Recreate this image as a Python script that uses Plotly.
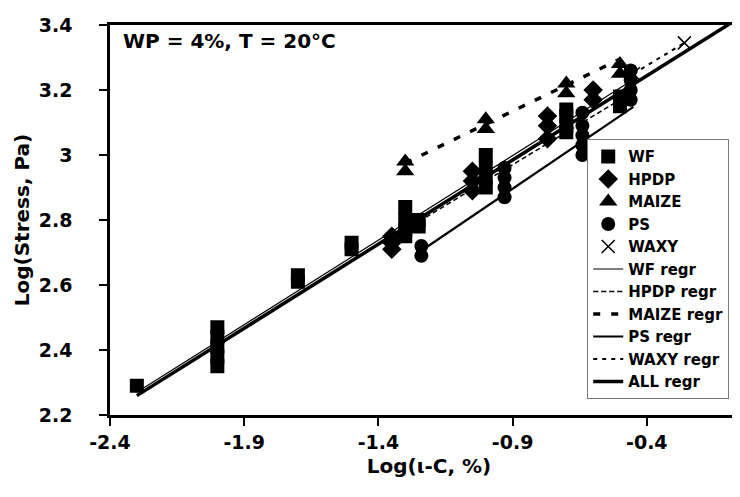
import numpy as np
import plotly.graph_objects as go

# ---- data ----
wf_x = [-2.3, -2.0, -2.0, -2.0, -2.0, -2.0, -1.7, -1.7, -1.5, -1.5,
        -1.3, -1.3, -1.3, -1.3, -1.25, -1.25, -1.0, -1.0, -1.0, -1.0,
        -0.7, -0.7, -0.7, -0.7, -0.5, -0.5]
wf_y = [2.29, 2.35, 2.38, 2.41, 2.44, 2.47, 2.61, 2.63, 2.71, 2.73,
        2.75, 2.77, 2.80, 2.84, 2.78, 2.80, 2.90, 2.93, 2.96, 3.00,
        3.07, 3.09, 3.12, 3.14, 3.15, 3.18]

hpdp_x = [-1.35, -1.35, -1.35, -1.05, -1.05, -1.05, -0.77, -0.77, -0.77, -0.6, -0.6]
hpdp_y = [2.71, 2.73, 2.75, 2.89, 2.92, 2.95, 3.05, 3.09, 3.12, 3.17, 3.20]

maize_x = [-1.3, -1.3, -1.0, -1.0, -0.7, -0.7, -0.5, -0.5]
maize_y = [2.95, 2.98, 3.08, 3.11, 3.19, 3.22, 3.25, 3.28]

ps_x = [-1.24, -1.24, -0.93, -0.93, -0.93, -0.93, -0.64, -0.64, -0.64, -0.64, -0.64,
        -0.46, -0.46, -0.46, -0.46]
ps_y = [2.69, 2.72, 2.87, 2.90, 2.93, 2.96, 3.00, 3.03, 3.06, 3.09, 3.13,
        3.17, 3.20, 3.23, 3.26]

waxy_x = [-0.45, -0.26]
waxy_y = [3.25, 3.345]

# regression lines: name, slope, intercept, x-start, x-end
regr_names = ["WF regr", "HPDP regr", "MAIZE regr", "PS regr", "WAXY regr", "ALL regr"]
regr_slope = [0.52, 0.50, 0.40, 0.56, 0.50, 0.518]
regr_icpt = [3.466, 3.42, 3.495, 3.40, 3.475, 3.451]
regr_x0 = [-2.3, -1.35, -1.3, -1.25, -0.45, -2.3]
regr_x1 = [-0.45, -0.45, -0.5, -0.45, -0.26, -0.07]

x_ticks = [-2.4, -1.9, -1.4, -0.9, -0.4]
x_ticktext = ["-2.4", "-1.9", "-1.4", "-0.9", "-0.4"]
y_ticks = [2.2, 2.4, 2.6, 2.8, 3.0, 3.2, 3.4]
y_ticktext = ["2.2", "2.4", "2.6", "2.8", "3", "3.2", "3.4"]

FONT = "DejaVu Sans"

fig = go.Figure()

pt_series = [
    ("WF", wf_x, wf_y, dict(symbol="square", size=14, color="black")),
    ("HPDP", hpdp_x, hpdp_y, dict(symbol="diamond", size=15, color="black")),
    ("MAIZE", maize_x, maize_y, dict(symbol="triangle-up", size=16, color="black")),
    ("PS", ps_x, ps_y, dict(symbol="circle", size=14, color="black")),
    ("WAXY", waxy_x, waxy_y, dict(symbol="x-thin-open", size=13, color="black",
                                  line=dict(width=1.5, color="black"))),
]
for name, xs, ys, mk in pt_series:
    fig.add_trace(go.Scatter(x=xs, y=ys, mode="markers", name=name, marker=mk))

regr_styles = [
    dict(color="black", width=1.2, dash="solid"),
    dict(color="black", width=1.5, dash="5px,3px"),
    dict(color="black", width=3.5, dash="7px,11px"),
    dict(color="black", width=2.2, dash="solid"),
    dict(color="black", width=2.0, dash="4px,5px"),
    dict(color="black", width=3.5, dash="solid"),
]
for i, nm in enumerate(regr_names):
    xs = np.array([regr_x0[i], regr_x1[i]])
    ys = regr_icpt[i] + regr_slope[i] * xs
    fig.add_trace(go.Scatter(x=xs, y=ys, mode="lines", name=nm, line=regr_styles[i]))

fig.add_annotation(text="WP = 4%, T = 20°C", xref="paper", yref="paper",
                   x=0.018, y=0.96, xanchor="left", yanchor="middle", showarrow=False,
                   font=dict(family=FONT, size=20, color="black", weight="bold"))

fig.update_layout(
    width=740, height=497,
    margin=dict(l=102, r=0, t=17, b=90, autoexpand=False),
    paper_bgcolor="white", plot_bgcolor="white",
    font=dict(family=FONT, color="black"),
    legend=dict(x=0.748, y=0.707, xanchor="left", yanchor="top",
                bgcolor="white", bordercolor="#777", borderwidth=1,
                font=dict(family=FONT, size=15, color="black", weight="bold"),
                entrywidth=200, tracegroupgap=0),
    xaxis=dict(range=[-2.4, -0.023], tickvals=x_ticks, ticktext=x_ticktext,
               showgrid=False, zeroline=False, showline=True, linecolor="black",
               linewidth=3, mirror=True, ticks="outside", ticklen=8, tickwidth=2,
               tickcolor="black", ticklabelstandoff=0,
               tickfont=dict(family=FONT, size=19, color="black", weight="bold"),
               title=dict(text="Log(ι-C, %)", standoff=8,
                          font=dict(family=FONT, size=20, color="black", weight="bold"))),
    yaxis=dict(range=[2.2, 3.4], tickvals=y_ticks, ticktext=y_ticktext,
               showgrid=False, zeroline=False, showline=True, linecolor="black",
               linewidth=2.5, ticks="outside", ticklen=8, tickwidth=2,
               tickcolor="black", ticklabelstandoff=23,
               tickfont=dict(family=FONT, size=19, color="black", weight="bold"),
               title=dict(text="Log(Stress, Pa)", standoff=4,
                          font=dict(family=FONT, size=20, color="black", weight="bold"))),
)

fig.write_html("out.html", config={"displayModeBar": False})
